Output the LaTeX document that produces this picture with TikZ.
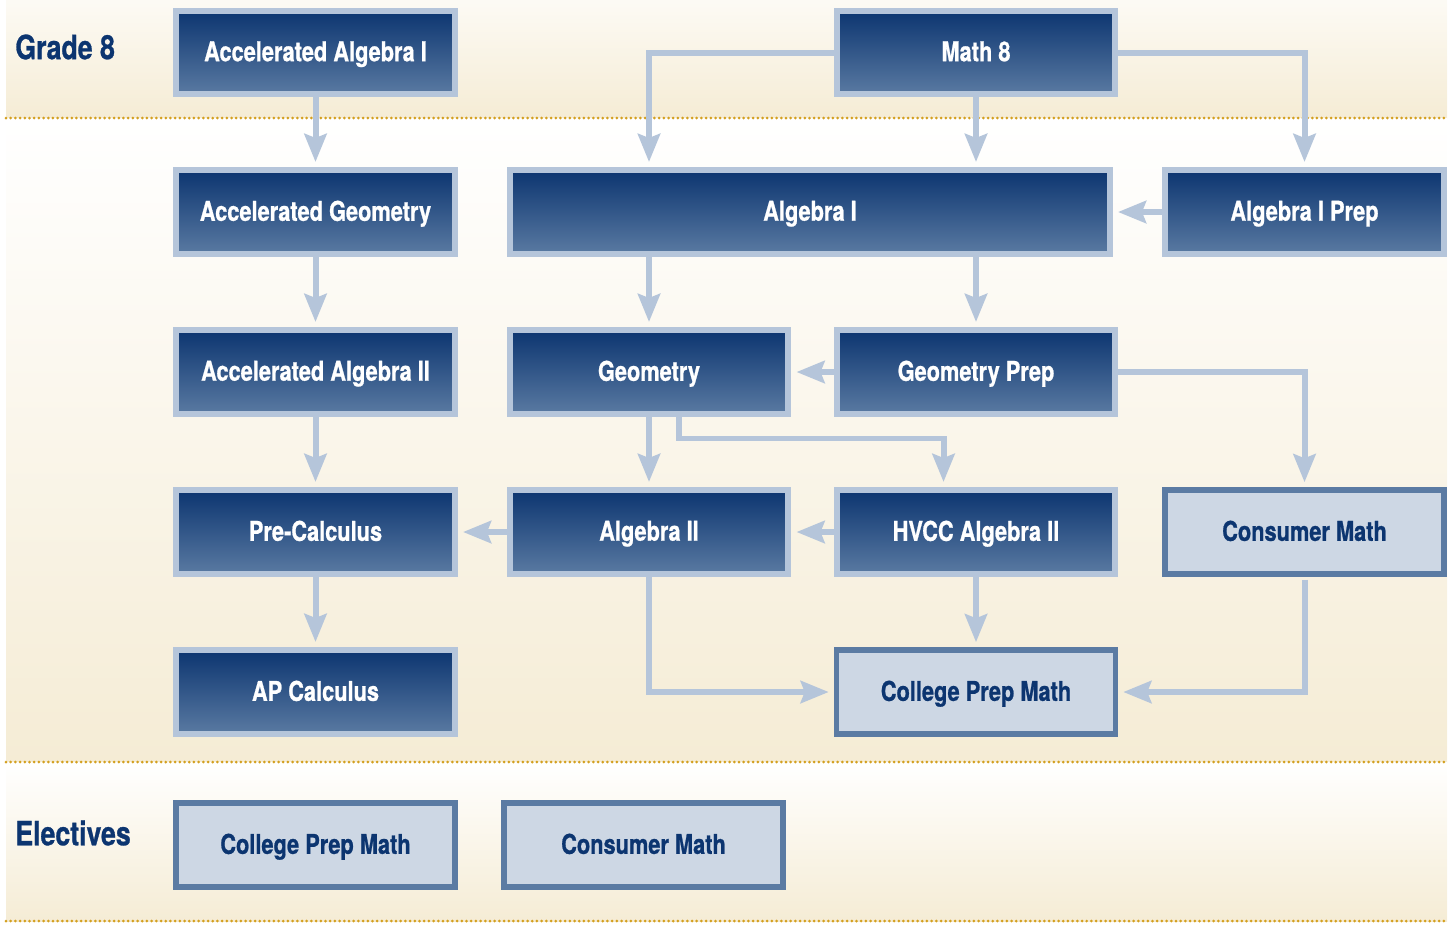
\documentclass[tikz,border=0pt]{standalone}
\usepackage{fontspec}
\setmainfont{TeX Gyre Heros}[FakeStretch=0.8, BoldFeatures={FakeBold=0.8}]
\usepackage{xcolor}
\usepackage{tikz}
\usetikzlibrary{arrows.meta, positioning}

\definecolor{navy}{HTML}{0C3570}
\definecolor{navylow}{HTML}{5A7AA2}
\definecolor{paleedge}{HTML}{B5C5DA}
\definecolor{palefill}{HTML}{CDD7E4}
\definecolor{steeledge}{HTML}{5B7BA3}
\definecolor{cream}{HTML}{F5ECD5}
\definecolor{goldline}{HTML}{D4A020}

\begin{document}
\begin{tikzpicture}[
            x=0.02cm, y=-0.02cm,               % one unit = one pixel of the layout
            darkbox/.style={draw=paleedge, line width=0.12cm,
              top color=navy, bottom color=navylow, text=white,
              minimum width=5.58cm, minimum height=1.68cm, inner sep=0pt,
              text depth=0.05cm,
              font=\fontsize{15.5}{18}\selectfont\bfseries},
            lightbox/.style={darkbox, draw=steeledge, line width=0.11cm,
              fill=palefill, top color=palefill, bottom color=palefill, text=navy},
            flow/.style={draw=paleedge, line width=0.12cm,
              -{Stealth[length=0.56cm, width=0.44cm, inset=0.08cm]},
              shorten >=0.1cm},
            rowlabel/.style={anchor=west, text=navy, inner sep=0pt,
              font=\fontsize{19}{22}\selectfont\bfseries},
            dotline/.style={goldline, line width=0.06cm, line cap=round,
              dash pattern=on 0pt off 0.094cm}
          ]
          \useasboundingbox (0,0) rectangle (1452,924);

          % background bands
          \fill[top color=cream!25, bottom color=cream] (6,0) rectangle (1447,118);
          \fill[top color=white, bottom color=cream] (6,118) rectangle (1447,762);
          \fill[top color=white, bottom color=cream] (6,762) rectangle (1447,921);
          \draw[dotline] (6,118) -- (1447,118);
          \draw[dotline] (6,762) -- (1447,762);
          \draw[dotline] (6,921) -- (1447,921);

          \node[rowlabel] (grade) at (15,47) {Grade 8};
          \node[rowlabel] (elect) at (15,833) {Electives};

          % grade 8
          \node[darkbox] (accalg1) at (315.5,52.5) {Accelerated Algebra I};
          \node[darkbox] (math8) at (976,52.5) {Math 8};

          % high school sequence
          \node[darkbox] (accgeom) at (315.5,212) {Accelerated Geometry};
          \node[darkbox, minimum width=12cm] (alg1) at (810,212) {Algebra I};
          \node[darkbox] (alg1prep) at (1304.5,212) {Algebra I Prep};

          \node[darkbox] (accalg2) at (315.5,372) {Accelerated Algebra II};
          \node[darkbox] (geom) at (649,372) {Geometry};
          \node[darkbox] (geomprep) at (976,372) {Geometry Prep};

          \node[darkbox] (precalc) at (315.5,532) {Pre-Calculus};
          \node[darkbox] (alg2) at (649,532) {Algebra II};
          \node[darkbox] (hvcc) at (976,532) {HVCC Algebra II};
          \node[lightbox] (consumer) at (1304.5,532) {Consumer Math};

          \node[darkbox] (apcalc) at (315.5,692) {AP Calculus};
          \node[lightbox] (cpmath) at (976,692) {College Prep Math};

          % electives
          \node[lightbox] (cpelect) at (315.5,845) {College Prep Math};
          \node[lightbox] (conselect) at (643.5,845) {Consumer Math};

          % accelerated track
          \draw[flow] (accalg1) -- (accgeom);
          \draw[flow] (accgeom) -- (accalg2);
          \draw[flow] (accalg2) -- (precalc);
          \draw[flow] (precalc) -- (apcalc);

          % regular tracks
          \draw[flow] (math8.west) -| (geom.north |- alg1.north);
          \draw[flow] (math8.south) -- (math8.south |- alg1.north);
          \draw[flow] (math8.east) -| (alg1prep.north);
          \draw[flow] (alg1prep) -- (alg1);
          \draw[flow] (geom.north |- alg1.south) -- (geom.north);
          \draw[flow] (geomprep.north |- alg1.south) -- (geomprep.north);
          \draw[flow] (geomprep) -- (geom);
          \draw[flow] (geomprep.east) -| (consumer.north);
          \draw[flow] (geom) -- (alg2);
          \draw[flow] ([xshift=0.6cm]geom.south) -- ++(0,-0.43cm) -| ([xshift=-0.65cm]hvcc.north);
          \draw[flow] (alg2) -- (precalc);
          \draw[flow] (hvcc) -- (alg2);
          \draw[flow] (hvcc) -- (cpmath);
          \draw[flow] (alg2.south) |- (cpmath.west);
          \draw[flow, shorten <=0.055cm] (consumer.south) |- (cpmath.east);
        \end{tikzpicture}
\end{document}
